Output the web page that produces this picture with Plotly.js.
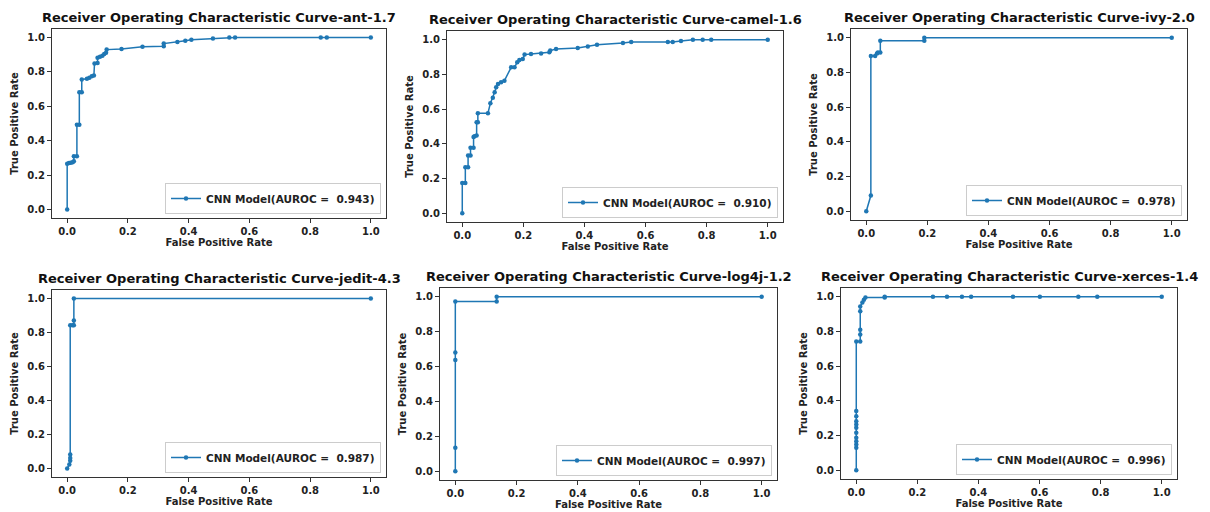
<!DOCTYPE html>
<html>
<head>
<meta charset="utf-8">
<script src="https://cdn.plot.ly/plotly-3.0.1.min.js"></script>
<style>html,body{margin:0;padding:0;background:#fff;}#chart{width:1210px;height:512px;}</style>
</head>
<body>
<div id="chart"></div>
<script>
// ---- data ----
const projects = ["ant-1.7", "camel-1.6", "ivy-2.0", "jedit-4.3", "log4j-1.2", "xerces-1.4"];
const aurocs = ["0.943", "0.910", "0.978", "0.987", "0.997", "0.996"];
const tickVals = [0, 0.2, 0.4, 0.6, 0.8, 1.0];
const tickText = ["0.0", "0.2", "0.4", "0.6", "0.8", "1.0"];

const antFpr = [0, 0, 0.006, 0.012, 0.018, 0.022, 0.022, 0.032, 0.032, 0.04, 0.04, 0.048, 0.048, 0.065, 0.073, 0.081, 0.088, 0.09, 0.1, 0.1, 0.108, 0.116, 0.122, 0.128, 0.13, 0.179, 0.248, 0.318, 0.318, 0.363, 0.389, 0.409, 0.48, 0.534, 0.553, 0.835, 0.855, 1.0];
const antTpr = [0, 0.266, 0.27, 0.272, 0.275, 0.28, 0.31, 0.31, 0.492, 0.492, 0.682, 0.682, 0.756, 0.76, 0.766, 0.775, 0.779, 0.849, 0.852, 0.882, 0.888, 0.895, 0.905, 0.912, 0.93, 0.934, 0.946, 0.95, 0.965, 0.974, 0.981, 0.988, 0.994, 1.0, 1.0, 1.0, 1.0, 1.0];

const camelFpr = [0, 0, 0.01, 0.01, 0.019, 0.019, 0.027, 0.027, 0.037, 0.037, 0.04, 0.047, 0.047, 0.051, 0.051, 0.084, 0.092, 0.1, 0.106, 0.111, 0.117, 0.127, 0.138, 0.16, 0.171, 0.18, 0.187, 0.198, 0.204, 0.225, 0.258, 0.285, 0.288, 0.307, 0.378, 0.411, 0.441, 0.526, 0.553, 0.673, 0.689, 0.716, 0.755, 0.787, 0.815, 1.0];
const camelTpr = [0, 0.174, 0.174, 0.266, 0.266, 0.333, 0.333, 0.378, 0.378, 0.439, 0.444, 0.448, 0.525, 0.525, 0.577, 0.577, 0.634, 0.665, 0.697, 0.726, 0.745, 0.755, 0.764, 0.841, 0.841, 0.87, 0.883, 0.889, 0.914, 0.918, 0.921, 0.927, 0.937, 0.946, 0.952, 0.961, 0.971, 0.981, 0.987, 0.987, 0.987, 0.992, 1.0, 1.0, 1.0, 1.0];

const ivyFpr = [0, 0.015, 0.015, 0.029, 0.035, 0.038, 0.046, 0.046, 0.19, 0.19, 1.0];
const ivyTpr = [0, 0.091, 0.895, 0.895, 0.909, 0.914, 0.914, 0.983, 0.983, 1.0, 1.0];

const jeditFpr = [0, 0.007, 0.01, 0.01, 0.01, 0.01, 0.018, 0.022, 0.022, 0.022, 1.0];
const jeditTpr = [0, 0.023, 0.045, 0.062, 0.082, 0.842, 0.842, 0.842, 0.871, 1.0, 1.0];

const log4jFpr = [0, 0, 0, 0, 0, 0.135, 0.135, 1.0];
const log4jTpr = [0, 0.135, 0.638, 0.68, 0.973, 0.973, 1.0, 1.0];

const xercesFpr = [0, 0, 0, 0, 0, 0, 0, 0, 0, 0, 0, 0, 0.013, 0.013, 0.013, 0.013, 0.013, 0.02, 0.025, 0.03, 0.093, 0.093, 0.251, 0.297, 0.346, 0.376, 0.513, 0.601, 0.727, 0.789, 1.0];
const xercesTpr = [0, 0.13, 0.149, 0.168, 0.188, 0.217, 0.245, 0.264, 0.283, 0.312, 0.341, 0.742, 0.742, 0.782, 0.81, 0.916, 0.944, 0.966, 0.983, 0.996, 0.996, 1.0, 1.0, 1.0, 1.0, 1.0, 1.0, 1.0, 1.0, 1.0, 1.0];

const fprs = [antFpr, camelFpr, ivyFpr, jeditFpr, log4jFpr, xercesFpr];
const tprs = [antTpr, camelTpr, ivyTpr, jeditTpr, log4jTpr, xercesTpr];

// ---- layout (pixel boxes of each axes: left, right, top, bottom) ----
const W = 1210, H = 512;
const boxes = [
  [52, 386, 29, 218],
  [447, 783, 31, 222],
  [851, 1187, 29, 220],
  [52, 386, 290, 477],
  [440, 777, 288, 480],
  [841, 1177, 288, 479]
];

const FONT = "DejaVu Sans, Liberation Sans, sans-serif";
const LINE = "#1f77b4";
const traces = [];
const layout = {
  width: W, height: H,
  margin: {l: 0, r: 0, t: 0, b: 0},
  paper_bgcolor: "#fff", plot_bgcolor: "#fff",
  showlegend: true,
  font: {family: FONT, size: 10, color: "#222", weight: "bold"},
  annotations: []
};

for (let i = 0; i < 6; i++) {
  const n = i === 0 ? "" : String(i + 1);
  const [l, r, t, b] = boxes[i];
  const legName = "legend" + n;
  traces.push({
    type: "scatter", mode: "lines+markers",
    x: fprs[i], y: tprs[i],
    xaxis: "x" + n, yaxis: "y" + n,
    name: "CNN Model(AUROC =\u00a0\u00a0" + aurocs[i] + ")",
    legend: legName,
    line: {color: LINE, width: 1.5},
    marker: {color: LINE, size: 4.5}
  });
  const axCommon = {
    range: [-0.05, 1.05],
    tickvals: tickVals, ticktext: tickText,
    ticks: "outside", ticklen: 4, tickwidth: 1, tickcolor: "#333",
    showline: true, mirror: true, linecolor: "#333", linewidth: 1,
    showgrid: false, zeroline: false,
    tickfont: {family: FONT, size: 10, color: "#222", weight: "bold"}
  };
  layout["xaxis" + n] = Object.assign({}, axCommon, {
    domain: [l / W, r / W], anchor: "y" + n,
    title: {text: "False Positive Rate", font: {family: FONT, size: 10, color: "#222", weight: "bold"}, standoff: 2}
  });
  layout["yaxis" + n] = Object.assign({}, axCommon, {
    domain: [1 - b / H, 1 - t / H], anchor: "x" + n,
    title: {text: "True Positive Rate", font: {family: FONT, size: 10, color: "#222", weight: "bold"}, standoff: 6}
  });
  layout[legName] = {
    x: (r - 5) / W, y: 1 - (b - 4) / H,
    xanchor: "right", yanchor: "bottom",
    bgcolor: "rgba(255,255,255,0.85)",
    bordercolor: "#cccccc", borderwidth: 1,
    font: {family: FONT, size: 10.5, color: "#222", weight: "bold"},
    itemwidth: 30, tracegroupgap: 0
  };
  layout.annotations.push({
    xref: "paper", yref: "paper",
    x: (l + r) / 2 / W, y: 1 - t / H,
    xanchor: "center", yanchor: "bottom", yshift: 2,
    showarrow: false,
    text: "Receiver Operating Characteristic Curve-" + projects[i],
    font: {family: FONT, size: 13, color: "#111", weight: "bold"}
  });
}

Plotly.newPlot("chart", traces, layout, {staticPlot: true, displayModeBar: false});
</script>
</body>
</html>
